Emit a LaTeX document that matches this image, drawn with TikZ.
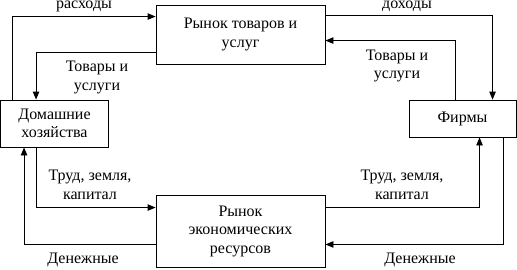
\documentclass[tikz,border=0pt]{standalone}
\usepackage{fontspec}
\setmainfont{Liberation Serif}
\usetikzlibrary{arrows.meta}
\begin{document}
\begin{tikzpicture}[x=1pt,y=-1pt,
  box/.style={draw,line width=0.9pt,align=center,inner sep=0pt,font=\fontsize{16}{18.5}\selectfont},
  lbl/.style={align=center,inner sep=0pt,font=\fontsize{16}{18.5}\selectfont},
  arr/.style={line width=0.9pt,-{Triangle[length=8pt,width=6.5pt]}}]
\useasboundingbox (0,0) rectangle (517,269);
\node[box,minimum width=169pt,minimum height=59pt] (top) at (240.5,34.5) {Рынок товаров и\\услуг};
\node[box,minimum width=108pt,minimum height=47pt] (hh) at (54.5,123.5) {Домашние\\хозяйства};
\node[box,minimum width=107pt,minimum height=37pt] (firms) at (462.5,118.5) {Фирмы};
\node[box,minimum width=169pt,minimum height=72pt] (bot) at (240.5,231) {Рынок\\экономических\\ресурсов};
% flows
\draw[arr] ([xshift=12pt]hh.north west) |- ([yshift=-12pt]top.north west);
\draw[arr] ([yshift=12pt]top.south west) -| ([xshift=36pt]hh.north west);
\draw[arr] ([yshift=-11pt]top.north east) -| ([xshift=84pt]firms.north west);
\draw[arr] ([xshift=47pt]firms.north west) |- ([yshift=-36pt]top.north east);
\draw[arr] ([xshift=36pt]hh.south west) |- ([yshift=-13pt]bot.north west);
\draw[arr] ([yshift=23pt]bot.south west) -| ([xshift=24pt]hh.south west);
\draw[arr] ([yshift=-13pt]bot.north east) -| ([xshift=71pt]firms.south west);
\draw[arr] ([xshift=95pt]firms.south west) |- ([yshift=23pt]bot.south east);
% labels
\node[lbl,anchor=base] (l1) at (84,8.5) {расходы};
\node[lbl,anchor=base] (l2) at (407,8.5) {доходы};
\node[lbl] (l3) at (97,77.5) {Товары и\\услуги};
\node[lbl] (l4) at (397,66) {Товары и\\услуги};
\node[lbl] (l5) at (90,185) {Труд, земля,\\капитал};
\node[lbl] (l6) at (402,185) {Труд, земля,\\капитал};
\node[lbl] (l7) at (83,260) {Денежные};
\node[lbl] (l8) at (420,260) {Денежные};
\end{tikzpicture}
\end{document}
